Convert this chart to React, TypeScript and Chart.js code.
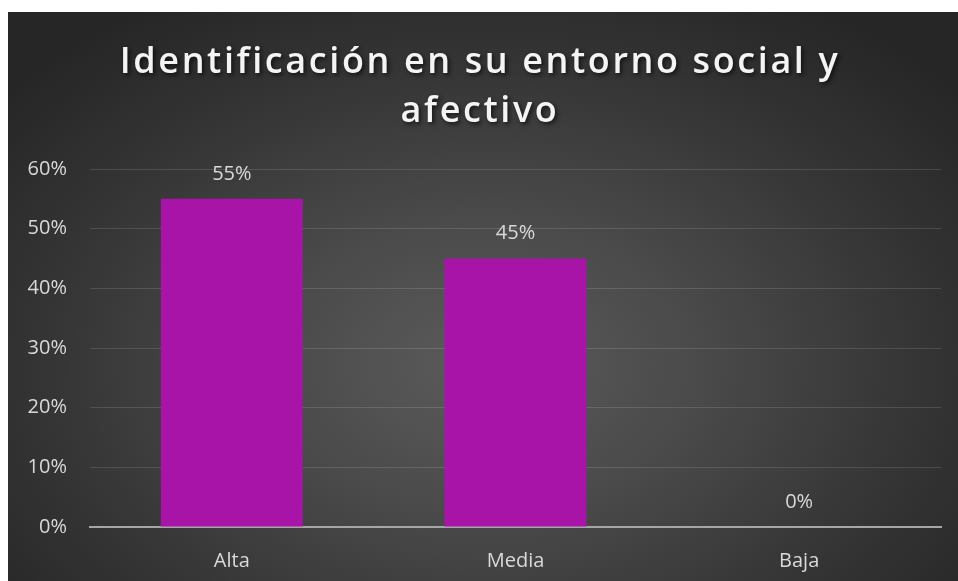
import React, { useEffect, useRef } from "react";
import { Chart, registerables } from "chart.js";

Chart.register(...registerables);

const titleLines = ["Identificación en su entorno social y", "afectivo"];
const categories = ["Alta", "Media", "Baja"];
const values = [0.55, 0.45, 0];
const yTicks = [0, 0.1, 0.2, 0.3, 0.4, 0.5, 0.6];

const FONT = '"Open Sans", "DejaVu Sans", sans-serif';
const LABEL_COLOR = "#d9d9d9";

const pct = (v: number) => `${Math.round(v * 100)}%`;

const titlePlugin = {
  id: "customTitle",
  afterDraw(chart: any) {
    const ctx = chart.ctx as CanvasRenderingContext2D;
    ctx.save();
    ctx.font = `600 36px ${FONT}`;
    (ctx as any).letterSpacing = "2.6px";
    ctx.textAlign = "center";
    ctx.textBaseline = "alphabetic";
    ctx.fillStyle = "#f4f4f4";
    ctx.shadowColor = "rgba(0,0,0,0.65)";
    ctx.shadowBlur = 4;
    ctx.shadowOffsetX = 2;
    ctx.shadowOffsetY = 2;
    const cx = chart.width / 2 - 3;
    const baselines = [61, 110];
    titleLines.forEach((line, i) => ctx.fillText(line, cx, baselines[i]));
    ctx.restore();
  },
};

const valueLabelPlugin = {
  id: "valueLabels",
  afterDatasetsDraw(chart: any) {
    const ctx = chart.ctx as CanvasRenderingContext2D;
    const meta = chart.getDatasetMeta(0);
    ctx.save();
    ctx.font = `20px ${FONT}`;
    ctx.fillStyle = LABEL_COLOR;
    ctx.textAlign = "center";
    ctx.textBaseline = "middle";
    meta.data.forEach((el: any, i: number) => {
      const v = chart.data.datasets[0].data[i] as number;
      ctx.fillText(pct(v), el.x, el.y - 25);
    });
    ctx.restore();
  },
};

export default function App() {
  const ref = useRef<HTMLCanvasElement>(null);

  useEffect(() => {
    if (!ref.current) return;
    const chart = new Chart(ref.current, {
      type: "bar",
      data: {
        labels: categories,
        datasets: [
          {
            data: values,
            backgroundColor: "#a814a8",
            borderWidth: 0,
            barPercentage: 0.5,
            categoryPercentage: 1,
          },
        ],
      },
      options: {
        animation: false,
        responsive: true,
        maintainAspectRatio: false,
        layout: { padding: { top: 157, right: 17, left: 0, bottom: 0 } },
        plugins: {
          legend: { display: false },
          title: { display: false },
          tooltip: { enabled: false },
        },
        scales: {
          x: {
            grid: { display: false },
            border: { display: true, color: "#a6a6a6", width: 2 },
            ticks: {
              color: LABEL_COLOR,
              font: { family: FONT, size: 20 },
              padding: 14,
            },
            afterFit: (s: any) => {
              s.height = 54;
            },
          },
          y: {
            min: 0,
            max: 0.6,
            afterBuildTicks: (s: any) => {
              s.ticks = yTicks.map((v) => ({ value: v }));
            },
            grid: {
              color: "rgba(255,255,255,0.13)",
              lineWidth: 1,
              drawTicks: false,
            },
            border: { display: false },
            ticks: {
              color: LABEL_COLOR,
              font: { family: FONT, size: 20 },
              padding: 23,
              callback: (v: any) => pct(Number(v)),
            },
            afterFit: (s: any) => {
              s.width = 82;
            },
          },
        },
      },
      plugins: [valueLabelPlugin, titlePlugin],
    });
    return () => chart.destroy();
  }, []);

  return (
    <div
      style={{
        position: "fixed",
        left: 8,
        top: 12,
        width: 950,
        height: 569,
        background:
          "radial-gradient(ellipse 65% 75% at 50% 62%, #5b5b5b 0%, #4a4a4a 35%, #353535 70%, #262626 100%)",
      }}
    >
      <canvas ref={ref} />
    </div>
  );
}
